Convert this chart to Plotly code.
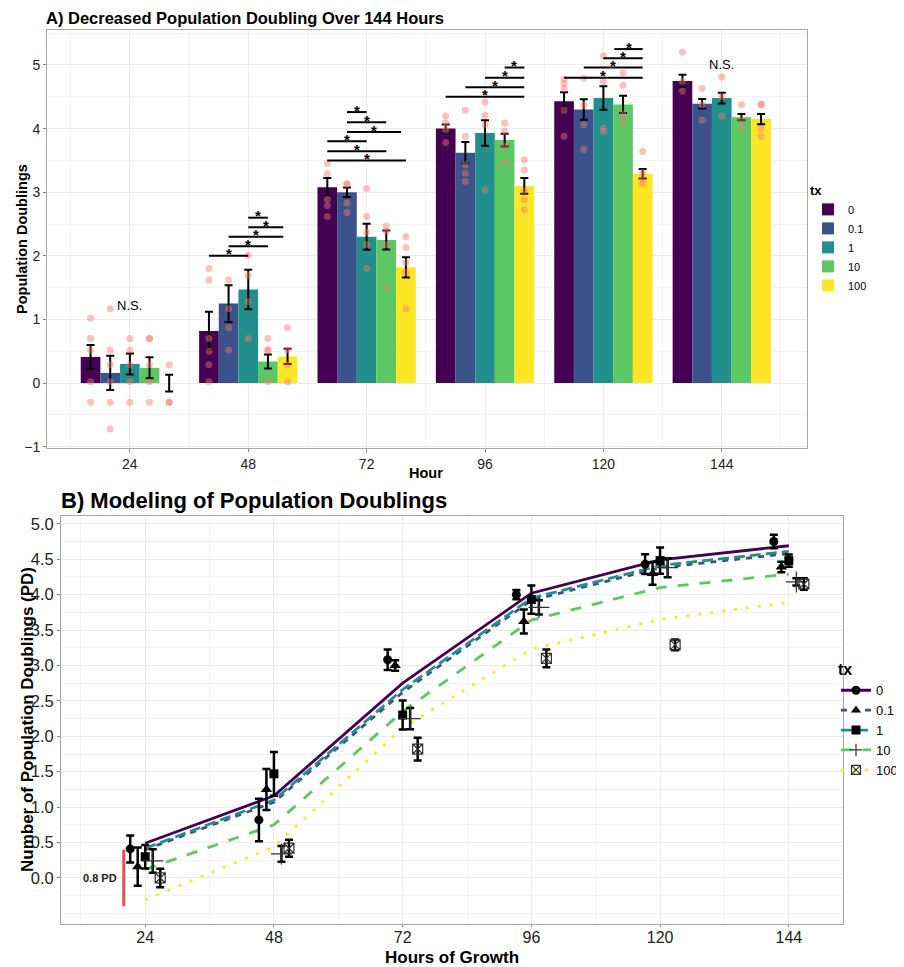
import plotly.graph_objects as go

# ---------------- data ----------------
hours = [24, 48, 72, 96, 120, 144]
hour_labels = ["24", "48", "72", "96", "120", "144"]
tx_levels = ["0", "0.1", "1", "10", "100"]

mean_tx0 = [0.41, 0.82, 3.08, 4.00, 4.43, 4.75]
mean_tx01 = [0.16, 1.25, 3.00, 3.62, 4.30, 4.39]
mean_tx1 = [0.30, 1.47, 2.30, 3.93, 4.48, 4.48]
mean_tx10 = [0.24, 0.34, 2.25, 3.82, 4.38, 4.18]
mean_tx100 = [0.00, 0.42, 1.82, 3.10, 3.29, 4.15]

se_tx0 = [0.19, 0.30, 0.145, 0.065, 0.14, 0.095]
se_tx01 = [0.27, 0.29, 0.075, 0.17, 0.16, 0.075]
se_tx1 = [0.165, 0.31, 0.205, 0.20, 0.185, 0.085]
se_tx10 = [0.165, 0.11, 0.15, 0.10, 0.135, 0.05]
se_tx100 = [0.13, 0.12, 0.16, 0.125, 0.075, 0.08]

# replicate measurements (per hour)
reps_tx0 = [[1.02, 0.70, 0.52, 0.02, -0.30], [1.80, 1.62, 0.70, 0.50, 0.29, 0.02],
            [3.45, 3.29, 2.89, 2.79, 2.62], [4.20, 4.09, 3.98, 3.78],
            [4.78, 4.71, 4.63, 4.29, 3.88], [5.20, 4.74, 4.59]]
reps_tx01 = [[1.17, 0.52, 0.29, 0.02, -0.30, -0.72], [1.62, 1.17, 0.87, 0.52],
             [3.13, 3.13, 2.83, 2.68], [4.29, 3.88, 3.43, 3.30, 3.17],
             [4.79, 4.37, 4.06, 3.67], [4.63, 4.38, 4.13]]
reps_tx1 = [[0.70, 0.52, 0.29, 0.02, -0.30], [2.01, 1.69, 1.28, 0.70],
            [3.06, 2.62, 2.37, 2.18, 1.80], [4.42, 4.21, 4.06, 3.04],
            [5.14, 4.74, 4.00, 3.96], [4.81, 4.50, 4.20]]
reps_tx10 = [[0.70, 0.70, 0.29, 0.02, -0.30], [0.70, 0.52, 0.52, 0.02],
             [2.47, 2.39, 2.18, 1.51], [4.09, 3.96, 3.72, 3.47],
             [4.88, 4.68, 4.23, 4.10], [4.38, 4.13, 4.00]]
reps_tx100 = [[0.29, -0.30, -0.30], [0.87, 0.52, 0.29, 0.02],
              [2.30, 2.13, 1.89, 1.74, 1.17], [3.51, 3.35, 3.02, 2.88, 2.72],
              [3.64, 3.31, 3.20, 3.13], [4.38, 4.38, 4.00, 3.88]]

# model fits (panel B)
fit_tx0 = [0.49, 1.16, 2.75, 4.02, 4.49, 4.69]
fit_tx01 = [0.40, 1.07, 2.62, 3.92, 4.38, 4.58]
fit_tx1 = [0.42, 1.10, 2.66, 3.95, 4.41, 4.61]
fit_tx10 = [0.12, 0.75, 2.35, 3.64, 4.10, 4.29]
fit_tx100 = [-0.31, 0.44, 2.12, 3.23, 3.65, 3.89]

# significance comparisons: (hour index, group from, group to, bracket height)
sig_hour = [1, 1, 1, 1, 1, 2, 2, 2, 2, 2, 2, 3, 3, 3, 3, 4, 4, 4, 4]
sig_from = [0, 1, 1, 2, 2, 1, 1, 1, 0, 0, 0, 3, 2, 1, 0, 2.56, 2, 1, 0]
sig_to = [2, 3, 3.78, 3.78, 3, 2, 3, 3.75, 2, 3, 4, 4, 4, 4, 4, 4, 4, 4, 4]
sig_y = [2.00, 2.15, 2.30, 2.45, 2.60, 4.26, 4.10, 3.945, 3.80, 3.645, 3.50,
         4.96, 4.80, 4.65, 4.50, 5.25, 5.106, 4.96, 4.80]
ns_hour = [0, 5]
ns_y = [1.22, 5.0]

means = [mean_tx0, mean_tx01, mean_tx1, mean_tx10, mean_tx100]
ses = [se_tx0, se_tx01, se_tx1, se_tx10, se_tx100]
reps = [reps_tx0, reps_tx01, reps_tx1, reps_tx10, reps_tx100]
fits = [fit_tx0, fit_tx01, fit_tx1, fit_tx10, fit_tx100]

# ---------------- style ----------------
PAGE_W, PAGE_H = 904, 967
OFF = 8  # default body margin of the html page
W, H = PAGE_W - OFF, PAGE_H - OFF
colors = ["#440154", "#3B528B", "#21908C", "#5DC863", "#FDE725"]
dashes = ["solid", "6px,6px", "11px,5px", "11px,11px", "3px,9px"]
symbols = ["circle", "triangle-up", "square", "cross-thin", "square-x-open"]
msizes = [9, 10, 9, 15, 10]
bargap = 0.17
slot = (1 - bargap) / 5
dodgeB = [-2.8, -1.4, 0.0, 1.4, 2.8]
FONT = "Liberation Sans, Arial, sans-serif"
GRID = "#EBEBEB"
MINOR = "#F3F3F3"
BORDER = "#A8A8A8"


def px(x):
    return (x - OFF) / W


def py(y):
    return 1 - (y - OFF) / H


fig = go.Figure()

# ---- Panel A: bars ----
idx = list(range(len(hours)))
for k, tx in enumerate(tx_levels):
    fig.add_trace(go.Bar(
        x=idx, y=means[k], name=tx, marker=dict(color=colors[k], line=dict(width=0)),
        error_y=dict(type="data", array=ses[k], color="black", thickness=2, width=4),
        xaxis="x", yaxis="y", legend="legend"))

for k, tx in enumerate(tx_levels):
    xs, ys = [], []
    for i in idx:
        for v in reps[k][i]:
            xs.append(i + (k - 2) * slot)
            ys.append(v)
    fig.add_trace(go.Scatter(
        x=xs, y=ys, mode="markers", showlegend=False, hoverinfo="skip",
        marker=dict(color="rgba(248,118,109,0.45)", size=7, line=dict(width=0)),
        xaxis="x", yaxis="y"))

shapes = []
annotations = []
for h, a, b, y in zip(sig_hour, sig_from, sig_to, sig_y):
    x0 = h + (a - 2) * slot
    x1 = h + (b - 2) * slot
    shapes.append(dict(type="line", xref="x", yref="y", x0=x0, x1=x1, y0=y, y1=y,
                       line=dict(color="black", width=2)))
    annotations.append(dict(xref="x", yref="y", x=(x0 + x1) / 2, y=y, text="*",
                            showarrow=False, xanchor="center", yanchor="middle", yshift=2,
                            font=dict(size=15, color="black", family=FONT, weight="bold")))
for h, y in zip(ns_hour, ns_y):
    annotations.append(dict(xref="x", yref="y", x=h, y=y, text="N.S.", showarrow=False,
                            xanchor="center",
                            font=dict(size=13, color="black", family=FONT)))

# ---- Panel B ----
for k, tx in enumerate(tx_levels):
    fig.add_trace(go.Scatter(
        x=hours, y=fits[k], mode="lines", showlegend=False, hoverinfo="skip",
        line=dict(color=colors[k], width=2.8, dash=dashes[k]),
        xaxis="x2", yaxis="y2"))

for k, tx in enumerate(tx_levels):
    open_sym = symbols[k] in ("cross-thin", "square-x-open")
    fig.add_trace(go.Scatter(
        x=[h + dodgeB[k] for h in hours], y=means[k], mode="markers", showlegend=False,
        error_y=dict(type="data", array=ses[k], color="black", thickness=2.5, width=4),
        marker=dict(symbol=symbols[k], size=msizes[k], color="black" if not open_sym else "#333",
                    line=dict(width=1.2 if open_sym else 0, color="#333")),
        xaxis="x2", yaxis="y2"))

for k, tx in enumerate(tx_levels):
    open_sym = symbols[k] in ("cross-thin", "square-x-open")
    fig.add_trace(go.Scatter(
        x=[None], y=[None], mode="lines+markers", name=tx, legend="legend2",
        line=dict(color=colors[k], width=2.8, dash=dashes[k]),
        marker=dict(symbol=symbols[k], size=9, color="black" if not open_sym else "#333",
                    line=dict(width=1.2 if open_sym else 0, color="#333")),
        xaxis="x2", yaxis="y2"))

# red 0.8 PD segment
shapes.append(dict(type="line", xref="x2", yref="y2", x0=20, x1=20, y0=0.4, y1=-0.4,
                   line=dict(color="#F04B4B", width=3)))
annotations.append(dict(xref="x2", yref="y2", x=19.2, y=0.0, text="0.8 PD", showarrow=False,
                        xanchor="right", yanchor="middle",
                        font=dict(size=11, color="#222", family=FONT, weight="bold")))

# titles
annotations += [
    dict(xref="paper", yref="paper", x=px(44), y=py(18), xanchor="left", yanchor="middle",
         text="A) Decreased Population Doubling Over 144 Hours", showarrow=False,
         font=dict(size=16.5, family=FONT, color="black", weight="bold")),
    dict(xref="paper", yref="paper", x=px(22), y=py(239), textangle=-90,
         xanchor="center", yanchor="middle",
         text="Population Doublings", showarrow=False,
         font=dict(size=14.5, family=FONT, color="black", weight="bold")),
    dict(xref="paper", yref="paper", x=px(426), y=py(473), xanchor="center", yanchor="middle",
         text="Hour", showarrow=False,
         font=dict(size=14.5, family=FONT, color="black", weight="bold")),
    dict(xref="paper", yref="paper", x=px(59), y=py(500), xanchor="left", yanchor="middle",
         text="B) Modeling of Population Doublings", showarrow=False,
         font=dict(size=22, family=FONT, color="black", weight="bold")),
    dict(xref="paper", yref="paper", x=px(27), y=py(720), textangle=-90,
         xanchor="center", yanchor="middle",
         text="Number of Population Doublings (PD)", showarrow=False,
         font=dict(size=17, family=FONT, color="black", weight="bold")),
    dict(xref="paper", yref="paper", x=px(452), y=py(957), xanchor="center", yanchor="middle",
         text="Hours of Growth", showarrow=False,
         font=dict(size=17, family=FONT, color="black", weight="bold")),
]

axis_common = dict(showline=True, mirror=True, linecolor=BORDER, linewidth=1,
                   gridcolor=GRID, gridwidth=1, zeroline=False, ticks="outside",
                   tickcolor="#888", automargin=False)

fig.update_layout(
    width=W, height=H, margin=dict(l=0, r=0, t=0, b=0, autoexpand=False),
    paper_bgcolor="white", plot_bgcolor="white",
    font=dict(family=FONT, color="#222"),
    barmode="group", bargap=bargap, bargroupgap=0,
    xaxis=dict(domain=[px(47), px(807)], anchor="y", range=[-0.70, 5.72],
               tickmode="array", tickvals=idx, ticktext=hour_labels,
               tickfont=dict(size=14, color="#222"), ticklen=3,
               minor=dict(tickmode="array", tickvals=[i - 0.5 for i in range(7)],
                          showgrid=True, gridcolor=MINOR, ticks=""),
               **axis_common),
    yaxis=dict(domain=[py(448), py(30)], anchor="x", range=[-1.02, 5.55],
               tickmode="array", tickvals=[-1, 0, 1, 2, 3, 4, 5],
               tickfont=dict(size=14, color="#222"), ticklen=3,
               minor=dict(tickmode="array", tickvals=[v - 0.5 for v in range(-1, 7)],
                          showgrid=True, gridcolor=MINOR, ticks=""),
               **axis_common),
    xaxis2=dict(domain=[px(61), px(843)], anchor="y2", range=[8.3, 154.1],
                tickmode="array", tickvals=hours, ticktext=hour_labels,
                tickfont=dict(size=16, color="#222"), ticklen=2, ticklabelstandoff=-3,
                minor=dict(tickmode="array", tickvals=[12 * i for i in range(1, 13)],
                           showgrid=True, gridcolor=MINOR, ticks=""),
                **axis_common),
    yaxis2=dict(domain=[py(924), py(516)], anchor="x2", range=[-0.65, 5.11],
                tickmode="array", tickvals=[v / 2 for v in range(11)], tickformat=".1f",
                tickfont=dict(size=16.5, color="#222"), ticklen=3,
                minor=dict(tickmode="array", tickvals=[v / 4 for v in range(-2, 21)],
                           showgrid=True, gridcolor=MINOR, ticks=""),
                **axis_common),
    legend=dict(title=dict(text="<b>tx</b>", font=dict(size=13, color="black")),
                x=px(808), y=py(239), xanchor="left", yanchor="middle",
                bgcolor="rgba(0,0,0,0)", font=dict(size=11, color="black"),
                itemwidth=30, tracegroupgap=0),
    legend2=dict(title=dict(text="<b>tx</b>", font=dict(size=16, color="black")),
                 x=px(836), y=py(720), xanchor="left", yanchor="middle",
                 bgcolor="rgba(0,0,0,0)", font=dict(size=13, color="black"),
                 itemwidth=30, tracegroupgap=0),
    shapes=shapes, annotations=annotations,
)

fig.write_html("out.html")
